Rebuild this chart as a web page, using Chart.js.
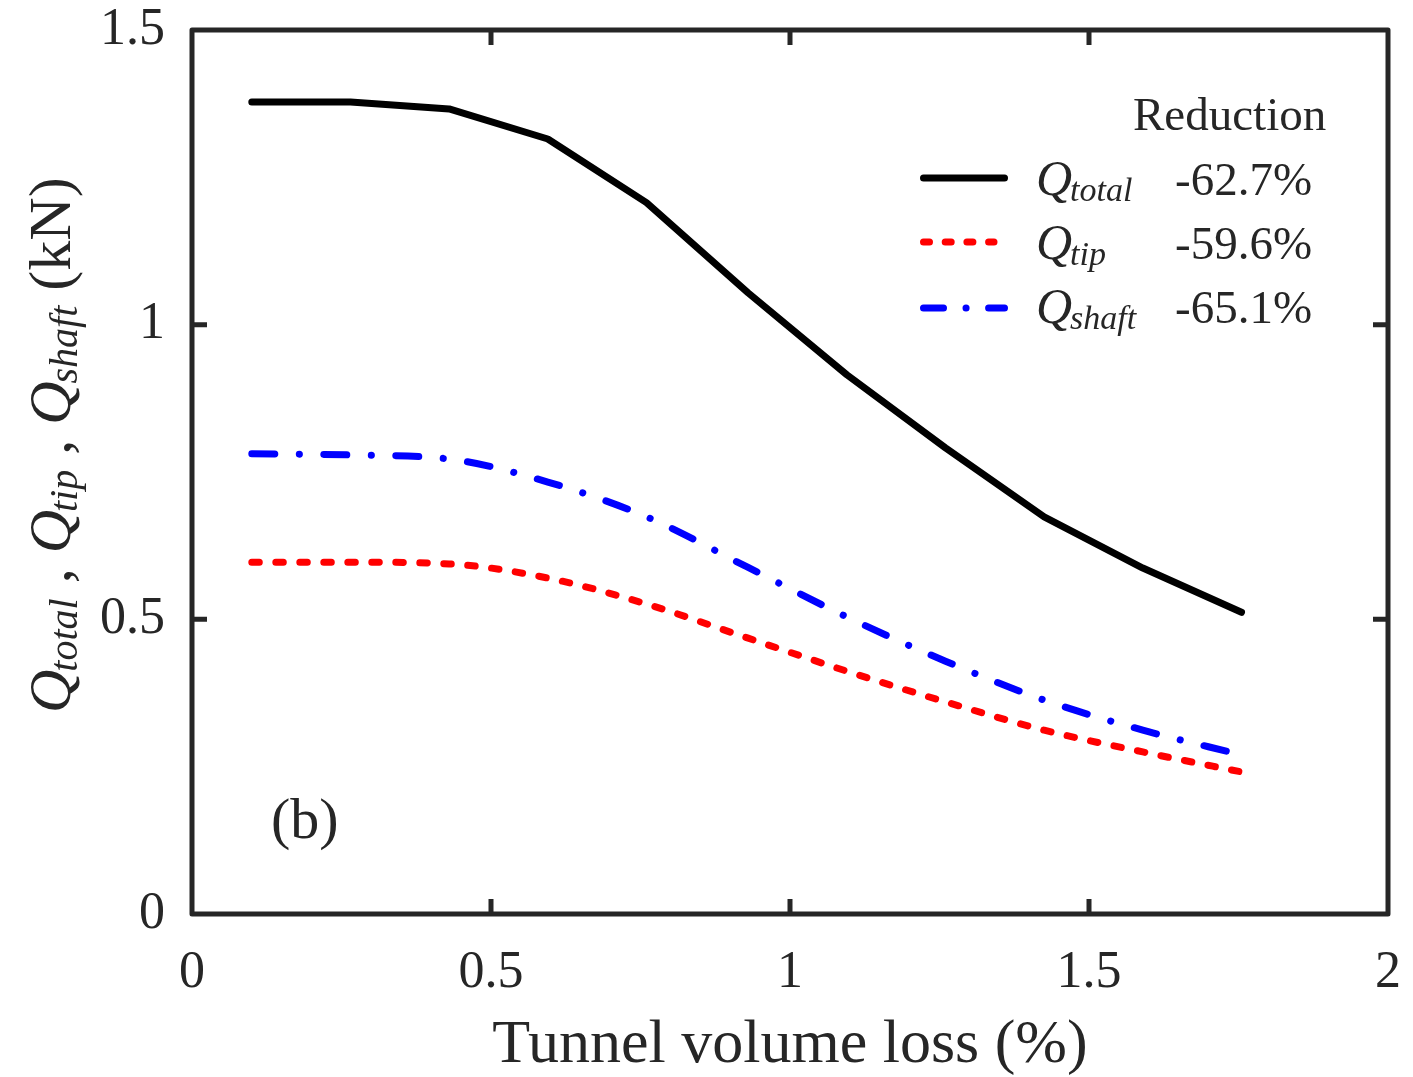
<!DOCTYPE html>
<html>
<head>
<meta charset="utf-8">
<script src="https://cdn.jsdelivr.net/npm/chart.js@4.4.1/dist/chart.umd.min.js"></script>
<style>
  html, body { margin: 0; padding: 0; background: #fff; }
  canvas { display: block; }
</style>
</head>
<body>
<canvas id="chart" width="1413" height="1077"></canvas>
<script>
// values
const volumeLoss = [0.1, 0.265, 0.43, 0.595, 0.76, 0.93, 1.095, 1.26, 1.425, 1.59, 1.755];
const qTotal = [1.378, 1.378, 1.366, 1.315, 1.207, 1.054, 0.915, 0.791, 0.674, 0.587, 0.512];
const qTip = [0.597, 0.597, 0.594, 0.570, 0.526, 0.468, 0.412, 0.360, 0.312, 0.275, 0.241];
const qShaft = [0.781, 0.779, 0.772, 0.733, 0.674, 0.588, 0.504, 0.429, 0.363, 0.312, 0.270];

const xTicks = [0, 0.5, 1, 1.5, 2];
const yTicks = [0, 0.5, 1, 1.5];
const seriesNames = ["total", "tip", "shaft"];
const reductions = ["-62.7%", "-59.6%", "-65.1%"];

const SERIF = "'Liberation Serif', 'Times New Roman', serif";
const INK = "#262626";

const styles = [
  { color: "#000000", dash: [] },
  { color: "#ff0000", dash: [7.5, 16.5] },
  { color: "#0000ff", dash: [23, 24.5, 0.1, 24.4] }
];

const toPoints = ys => volumeLoss.map((v, i) => ({ x: v, y: ys[i] }));

function subscripted(ctx, x, y, base, sub, baseSize, subSize, drop) {
  ctx.font = `italic ${baseSize}px ${SERIF}`;
  ctx.fillText(base, x, y);
  const w = ctx.measureText(base).width;
  ctx.font = `italic ${subSize}px ${SERIF}`;
  ctx.fillText(sub, x + w - 2, y + drop);
  return w - 2 + ctx.measureText(sub).width;
}

const decorations = {
  id: "decorations",
  afterDraw(chart) {
    const { ctx, chartArea: a, scales: { x, y } } = chart;
    ctx.save();

    // box + inward ticks
    ctx.strokeStyle = INK;
    ctx.lineWidth = 5;
    ctx.lineJoin = "round";
    ctx.strokeRect(a.left, a.top, a.right - a.left, a.bottom - a.top);
    ctx.beginPath();
    xTicks.slice(1, -1).forEach(v => {
      const px = x.getPixelForValue(v);
      ctx.moveTo(px, a.bottom); ctx.lineTo(px, a.bottom - 15);
      ctx.moveTo(px, a.top); ctx.lineTo(px, a.top + 15);
    });
    yTicks.slice(1, -1).forEach(v => {
      const py = y.getPixelForValue(v);
      ctx.moveTo(a.left, py); ctx.lineTo(a.left + 15, py);
      ctx.moveTo(a.right, py); ctx.lineTo(a.right - 15, py);
    });
    ctx.stroke();

    // y axis title, rotated
    ctx.fillStyle = INK;
    ctx.textAlign = "left";
    ctx.textBaseline = "alphabetic";
    ctx.save();
    ctx.translate(70, 713);
    ctx.rotate(-Math.PI / 2);
    let cx = 0;
    seriesNames.forEach((name, i) => {
      cx += subscripted(ctx, cx, 0, "Q", name, 60, 40, 7);
      ctx.font = `60px ${SERIF}`;
      const sep = i < seriesNames.length - 1 ? " , " : " (kN)";
      ctx.fillText(sep, cx, 0);
      cx += ctx.measureText(sep).width;
    });
    ctx.restore();

    // legend
    ctx.font = `47px ${SERIF}`;
    ctx.fillText("Reduction", 1133, 130);
    const rowBase = [195, 259, 323];
    const lineY = [178, 242, 308];
    styles.forEach((s, i) => {
      ctx.save();
      ctx.strokeStyle = s.color;
      ctx.lineWidth = 7;
      ctx.lineCap = "round";
      if (i === 1) ctx.setLineDash([6, 15.7]);
      if (i === 2) ctx.setLineDash([20, 22.5, 0.1, 22.5, 100]);
      ctx.beginPath();
      ctx.moveTo(923.5, lineY[i]);
      ctx.lineTo(i === 1 ? 994 : 1004.5, lineY[i]);
      ctx.stroke();
      ctx.restore();
      subscripted(ctx, 1036, rowBase[i], "Q", seriesNames[i], 50, 34, 6);
      ctx.font = `47px ${SERIF}`;
      ctx.fillText(reductions[i], 1175, rowBase[i]);
    });

    // panel label
    ctx.font = `58px ${SERIF}`;
    ctx.fillText("(b)", 271, 838);
    ctx.restore();
  }
};

new Chart(document.getElementById("chart"), {
  type: "line",
  data: {
    datasets: [qTotal, qTip, qShaft].map((ys, i) => ({
      label: "Q" + seriesNames[i],
      data: toPoints(ys),
      borderColor: styles[i].color,
      borderWidth: 7,
      borderDash: styles[i].dash,
      borderCapStyle: "round",
      borderJoinStyle: "round",
      cubicInterpolationMode: i === 0 ? "default" : "monotone",
      tension: 0,
      pointRadius: 0,
      fill: false
    }))
  },
  options: {
    responsive: false,
    animation: false,
    devicePixelRatio: 1,
    layout: { padding: { top: 30, right: 25, left: 0, bottom: 0 } },
    plugins: { legend: { display: false }, tooltip: { enabled: false } },
    scales: {
      x: {
        type: "linear",
        min: 0,
        max: 2,
        afterBuildTicks: s => { s.ticks = xTicks.map(v => ({ value: v })); },
        afterFit: s => { s.height = 163; s.paddingLeft = 0; s.paddingRight = 0; },
        grid: { display: false, drawTicks: false },
        border: { display: false },
        ticks: {
          padding: 28,
          color: INK,
          font: { family: SERIF, size: 52 },
          callback: v => String(v)
        },
        title: {
          display: true,
          text: "Tunnel volume loss (%)",
          color: INK,
          font: { family: SERIF, size: 62, lineHeight: 1 },
          padding: { top: 0, bottom: 0 }
        }
      },
      y: {
        type: "linear",
        min: 0,
        max: 1.5,
        afterBuildTicks: s => { s.ticks = yTicks.map(v => ({ value: v })); },
        afterFit: s => { s.width = 192; s.paddingTop = 0; s.paddingBottom = 0; },
        grid: { display: false, drawTicks: false },
        border: { display: false },
        ticks: {
          padding: 27,
          color: INK,
          font: { family: SERIF, size: 52 },
          callback: v => String(v)
        }
      }
    }
  },
  plugins: [decorations]
});
</script>
</body>
</html>
